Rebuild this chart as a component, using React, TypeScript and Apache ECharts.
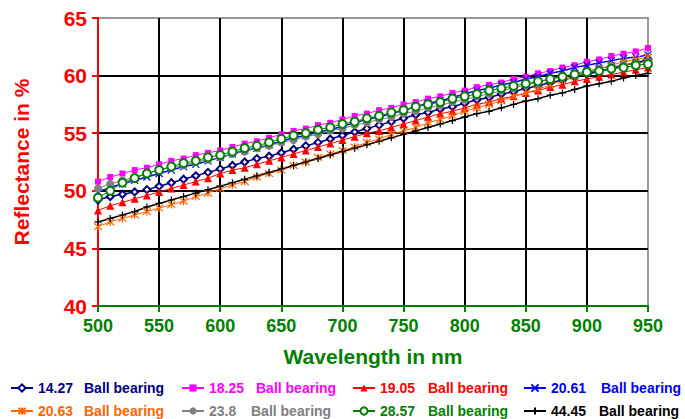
import React, { useEffect, useRef } from "react";
import * as echarts from "echarts";

const wavelengths = [500,510,520,530,540,550,560,570,580,590,600,610,620,630,640,650,660,670,680,690,700,710,720,730,740,750,760,770,780,790,800,810,820,830,840,850,860,870,880,890,900,910,920,930,940,950];

const s1427 = [49.2,49.5,49.7,49.9,50.1,50.4,50.7,51.0,51.3,51.6,51.9,52.2,52.5,52.8,53.0,53.3,53.6,53.9,54.2,54.5,54.8,55.1,55.4,55.7,56.0,56.3,56.6,56.8,57.1,57.3,57.6,57.9,58.1,58.4,58.6,58.9,59.1,59.4,59.6,59.9,60.1,60.4,60.6,60.9,61.1,61.4];
const s1825 = [50.8,51.2,51.5,51.8,52.0,52.3,52.6,52.8,53.1,53.3,53.5,53.8,54.1,54.3,54.6,54.9,55.2,55.4,55.7,55.9,56.2,56.5,56.7,57.0,57.2,57.5,57.7,58.0,58.2,58.5,58.7,59.0,59.2,59.4,59.7,59.9,60.2,60.4,60.7,60.9,61.2,61.4,61.7,61.9,62.1,62.4];
const s1905 = [48.3,48.7,49.0,49.3,49.6,49.9,50.2,50.5,50.8,51.1,51.5,51.8,52.0,52.3,52.6,52.9,53.2,53.5,53.8,54.1,54.4,54.7,55.0,55.2,55.5,55.8,56.1,56.4,56.7,56.9,57.2,57.5,57.7,58.0,58.2,58.5,58.7,59.0,59.2,59.5,59.7,59.9,60.1,60.3,60.5,60.7];
const s2061 = [49.9,50.3,50.6,50.9,51.2,51.5,51.8,52.1,52.3,52.6,52.9,53.2,53.5,53.7,54.0,54.3,54.6,54.8,55.1,55.3,55.6,55.9,56.2,56.4,56.7,57.0,57.3,57.6,57.8,58.1,58.4,58.7,58.9,59.2,59.4,59.7,59.9,60.2,60.4,60.7,60.9,61.1,61.3,61.5,61.6,61.8];
const s2063 = [46.9,47.3,47.6,47.9,48.2,48.5,48.8,49.1,49.5,49.8,50.2,50.5,50.8,51.2,51.5,51.8,52.2,52.5,52.9,53.2,53.5,53.8,54.2,54.5,54.9,55.2,55.5,55.9,56.2,56.5,56.9,57.2,57.5,57.8,58.2,58.5,58.8,59.2,59.6,59.9,60.3,60.6,60.9,61.2,61.4,61.6];
const s238 = [50.2,50.6,50.9,51.2,51.5,51.8,52.0,52.2,52.5,52.7,52.9,53.2,53.4,53.7,53.9,54.2,54.4,54.7,54.9,55.2,55.4,55.7,55.9,56.2,56.4,56.7,56.9,57.2,57.4,57.7,57.9,58.2,58.4,58.7,58.9,59.2,59.4,59.7,59.9,60.2,60.4,60.6,60.8,60.9,61.1,61.2];
const s2857 = [49.4,50.0,50.7,51.1,51.5,51.8,52.1,52.4,52.6,52.9,53.1,53.4,53.7,53.9,54.2,54.5,54.8,55.0,55.3,55.5,55.8,56.0,56.3,56.5,56.8,57.0,57.3,57.5,57.7,58.0,58.2,58.4,58.7,58.9,59.1,59.3,59.5,59.7,59.9,60.1,60.3,60.4,60.6,60.7,60.9,61.0];
const s4445 = [47.3,47.6,47.9,48.2,48.6,48.9,49.2,49.5,49.8,50.1,50.4,50.7,51.0,51.3,51.6,51.9,52.2,52.5,52.8,53.1,53.4,53.7,54.0,54.3,54.6,54.9,55.2,55.5,55.8,56.1,56.4,56.7,56.9,57.2,57.5,57.8,58.0,58.3,58.5,58.8,59.1,59.3,59.5,59.8,60.0,60.2];

const seriesNames = ["14.27", "18.25", "19.05", "20.61", "20.63", "23.8", "28.57", "44.45"];
const seriesValues = [s1427, s1825, s1905, s2061, s2063, s238, s2857, s4445];
const seriesColors = ["#000080", "#FF00FF", "#FF0000", "#0000FF", "#FF6600", "#808080", "#008000", "#000000"];
const legendSuffix = "Ball bearing";

const CROSS = "path://M0,0L10,10M10,0L0,10";
const STAR = "path://M0,0L10,10M10,0L0,10M5,-1L5,11";
const PLUS = "path://M5,0L5,10M0,5L10,5";

const symbols = ["emptyDiamond", "rect", "triangle", CROSS, STAR, "circle", "emptyCircle", PLUS];
const symbolSizes = [7, 6, 8, 7, 8, 8, 8, 7];
const lineWidths = [1.5, 1, 1, 1.5, 1, 1, 1, 1.5];

const legendLeft = [10, 181, 352, 523];
const legendTop = [381, 404];
const legendNameWidth = [46, 47, 48, 50, 46, 42, 48, 48];

const FONT = "'Liberation Sans', Arial, sans-serif";

export default function App() {
  const ref = useRef<HTMLDivElement>(null);
  useEffect(() => {
    if (!ref.current) return;
    const chart = echarts.init(ref.current, undefined, { renderer: "svg" });
    const series = seriesNames.map((name, i) => ({
      name,
      type: "line",
      data: wavelengths.map((w, j) => [w, seriesValues[i][j]]),
      symbol: symbols[i],
      symbolSize: symbolSizes[i],
      showAllSymbol: true,
      lineStyle: { color: seriesColors[i], width: lineWidths[i] },
      itemStyle: {
        color: seriesColors[i],
        borderColor: seriesColors[i],
        borderWidth: symbols[i].startsWith("path") || symbols[i].startsWith("empty") ? 1.2 : 0,
      },
      emphasis: { disabled: true },
    }));
    const legends = seriesNames.map((name, i) => ({
      show: true,
      data: [name],
      left: legendLeft[i % 4],
      top: legendTop[Math.floor(i / 4)],
      itemWidth: 22,
      itemHeight: 9,
      padding: 0,
      selectedMode: false,
      formatter: (n: string) => `{a|${n}}{b|${legendSuffix}}`,
      textStyle: {
        rich: {
          a: { color: seriesColors[i], fontWeight: "bold", fontSize: 14, fontFamily: FONT, width: legendNameWidth[i] },
          b: { color: seriesColors[i], fontWeight: "bold", fontSize: 14, fontFamily: FONT },
        },
      },
    }));
    chart.setOption({
      animation: false,
      backgroundColor: "#ffffff",
      grid: {
        left: 98,
        right: 37,
        top: 18,
        bottom: 113,
        show: true,
        borderColor: "#999999",
        borderWidth: 2,
      },
      legend: legends,
      xAxis: {
        type: "value",
        min: 500,
        max: 950,
        interval: 50,
        name: "Wavelength in nm",
        nameLocation: "middle",
        nameGap: 40,
        nameTextStyle: { color: "#008000", fontWeight: "bold", fontSize: 21, fontFamily: FONT },
        axisLine: { show: true, lineStyle: { color: "#008000", width: 2 } },
        axisTick: { show: true, inside: false, length: 6, lineStyle: { color: "#008000", width: 2 } },
        axisLabel: { color: "#008000", fontWeight: "bold", fontSize: 18, fontFamily: FONT, margin: 11 },
        splitLine: { show: true, showMinLine: false, showMaxLine: false, lineStyle: { color: "#000000", width: 2 } },
      },
      yAxis: {
        type: "value",
        min: 40,
        max: 65,
        interval: 5,
        name: "Reflectance in %",
        nameLocation: "middle",
        nameGap: 66,
        nameTextStyle: { color: "#FF0000", fontWeight: "bold", fontSize: 21, fontFamily: FONT },
        axisLine: { show: true, lineStyle: { color: "#FF0000", width: 2 } },
        axisTick: { show: true, inside: false, length: 6, lineStyle: { color: "#FF0000", width: 2 } },
        axisLabel: { color: "#FF0000", fontWeight: "bold", fontSize: 21, fontFamily: FONT, margin: 11 },
        splitLine: { show: true, showMinLine: false, showMaxLine: false, lineStyle: { color: "#000000", width: 2 } },
      },
      series,
    });
    return () => chart.dispose();
  }, []);
  return <div ref={ref} style={{ position: "fixed", left: 0, top: 0, width: 685, height: 419 }} />;
}
